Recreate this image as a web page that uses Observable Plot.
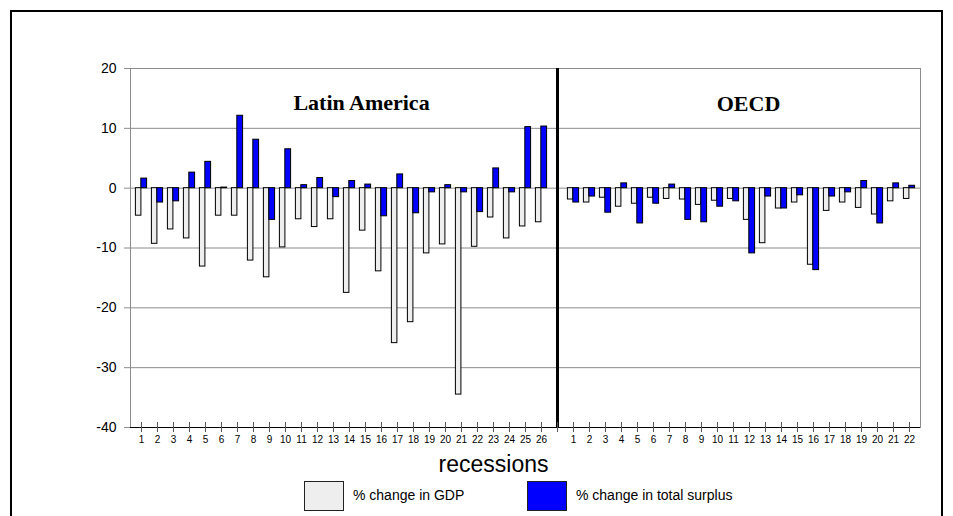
<!DOCTYPE html>
<html>
<head>
<meta charset="utf-8">
<script src="https://cdn.jsdelivr.net/npm/d3@7"></script>
<script src="https://cdn.jsdelivr.net/npm/@observablehq/plot@0.6"></script>
<style>
  body { margin: 0; background: #fff; font-family: "Liberation Sans", Arial, sans-serif; }
  #wrap { position: relative; width: 953px; height: 516px; overflow: hidden; background: #fff; }
  #chart { position: absolute; left: 0; top: 0; }
  #border { position: absolute; left: 10px; top: 10px; width: 929px; height: 600px; border: 2px solid #000; pointer-events: none; }
  .lg-box { position: absolute; top: 481px; width: 38px; height: 28px; border: 1px solid #222; }
  .lg-text { position: absolute; top: 487px; font-size: 14px; line-height: 17px; color: #000; white-space: nowrap; }
</style>
</head>
<body>
<div id="wrap">
  <div id="chart"></div>
  <div id="border"></div>
  <div id="legend"></div>
</div>
<script>
// ---- data ----
const latinGDP = [-4.6, -9.3, -6.9, -8.4, -13.1, -4.6, -4.6, -12.1, -14.9, -9.9, -5.2, -6.5, -5.2,
                  -17.5, -7.1, -13.9, -25.9, -22.4, -10.9, -9.4, -34.5, -9.8, -4.9, -8.4, -6.4, -5.7];
const latinSurplus = [1.6, -2.4, -2.2, 2.6, 4.4, 0.1, 12.1, 8.1, -5.3, 6.5, 0.5, 1.7, -1.5,
                      1.2, 0.6, -4.7, 2.3, -4.2, -0.7, 0.5, -0.7, -4.0, 3.3, -0.7, 10.2, 10.3];
const oecdGDP = [-1.9, -2.4, -1.6, -3.1, -2.6, -1.6, -1.8, -1.9, -2.8, -2.1, -1.8,
                 -5.3, -9.2, -3.4, -2.4, -12.8, -3.8, -2.4, -3.3, -4.4, -2.2, -1.8];
const oecdSurplus = [-2.4, -1.4, -4.1, 0.8, -5.9, -2.6, 0.6, -5.3, -5.7, -3.1, -2.2,
                     -10.9, -1.4, -3.4, -1.2, -13.7, -1.4, -0.7, 1.2, -5.9, 0.8, 0.4];
const yTicks = [-40, -30, -20, -10, 0, 10, 20];
const panelLabels = [
  {key: "L15", text: "Latin America"},
  {key: "O12", text: "OECD"}
];
const axisTitle = "recessions";
const seriesNames = ["% change in GDP", "% change in total surplus"];
const seriesColors = ["#eeeeee", "#0000ff"];

// ---- build table ----
const latinKeys = latinGDP.map((_, i) => "L" + (i + 1));
const oecdKeys = oecdGDP.map((_, i) => "O" + (i + 1));
const keys = [...latinKeys, "gap", ...oecdKeys];
const rows = [
  ...latinGDP.map((v, i) => ({key: latinKeys[i], gdp: v, surplus: latinSurplus[i]})),
  ...oecdGDP.map((v, i) => ({key: oecdKeys[i], gdp: v, surplus: oecdSurplus[i]}))
];
const labelOf = k => (k === "gap" ? "" : k.slice(1));

const chart = Plot.plot({
  width: 953,
  height: 478,
  marginLeft: 130,
  marginRight: 33,
  marginTop: 68,
  marginBottom: 51,
  style: {fontFamily: "'Liberation Sans', Arial, sans-serif", background: "transparent", color: "#000", overflow: "visible"},
  x: {type: "band", domain: keys, padding: 0, label: null},
  y: {domain: [-40, 20], label: null},
  marks: [
    Plot.gridY(yTicks, {stroke: "#8c8c8c", strokeOpacity: 1}),
    Plot.frame({stroke: "#8c8c8c"}),
    Plot.axisY(yTicks, {tickSize: 6, tickPadding: 8, fontSize: 14, stroke: "#8c8c8c", label: null, tickFormat: d => String(d)}),
    Plot.barY(rows, {x: "key", y: "gdp", fill: seriesColors[0], stroke: "#000", strokeWidth: 1, insetLeft: 2.4, insetRight: 8.1}),
    Plot.barY(rows, {x: "key", y: "surplus", fill: seriesColors[1], stroke: "#000", strokeWidth: 1, insetLeft: 7.8, insetRight: 2.4}),
    Plot.ruleY([-40], {stroke: "#000", strokeWidth: 1.2}),
    Plot.ruleX(["gap"], {x: d => d, stroke: "#000", strokeWidth: 3}),
    Plot.axisX({tickSize: 10, dy: -5, tickFormat: () => "", stroke: "#555", label: null}),
    Plot.axisX({tickSize: 0, tickPadding: 8, fontSize: 10, tickFormat: labelOf, label: null}),
    Plot.text(panelLabels.slice(0, 1), {x: "key", text: "text", frameAnchor: "top", dy: 26, dx: -4, fontSize: 22, fontWeight: "bold",
      fontFamily: "'Liberation Serif', 'Times New Roman', serif", fill: "#000"}),
    Plot.text(panelLabels.slice(1), {x: "key", text: "text", frameAnchor: "top", dy: 27, dx: -1, fontSize: 22, fontWeight: "bold",
      fontFamily: "'Liberation Serif', 'Times New Roman', serif", fill: "#000"}),
    Plot.text([axisTitle], {x: () => "L23", text: d => d, frameAnchor: "bottom", dy: 44, fontSize: 23, fill: "#000"})
  ]
});
document.getElementById("chart").appendChild(chart);

// ---- legend (HTML, below the SVG) ----
const legend = document.getElementById("legend");
const lgPos = [{box: 304, text: 353}, {box: 527, text: 576}];
seriesNames.forEach((name, i) => {
  const b = document.createElement("div");
  b.className = "lg-box";
  b.style.left = lgPos[i].box + "px";
  b.style.background = seriesColors[i];
  legend.appendChild(b);
  const t = document.createElement("div");
  t.className = "lg-text";
  t.style.left = lgPos[i].text + "px";
  t.textContent = name;
  legend.appendChild(t);
});
</script>
</body>
</html>
